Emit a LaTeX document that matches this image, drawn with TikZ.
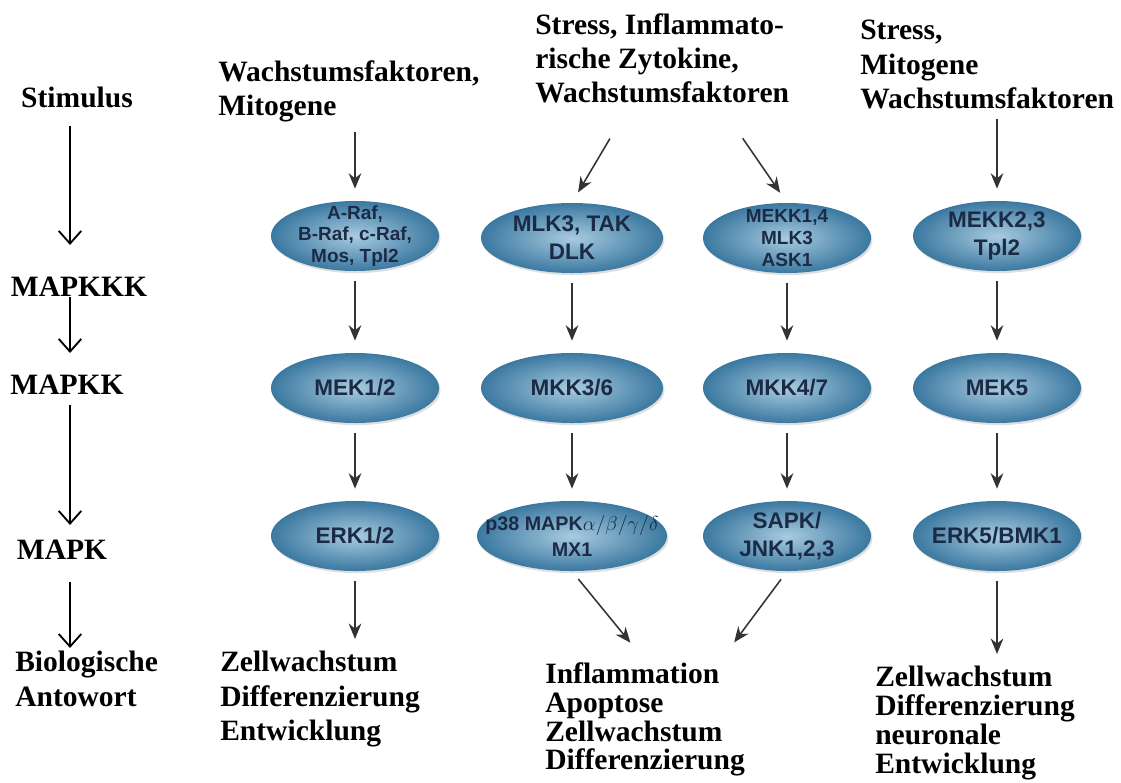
\documentclass[tikz,border=0pt]{standalone}
\usepackage{fontspec}
\setmainfont{Liberation Serif}
\setsansfont{Liberation Sans}
\usetikzlibrary{arrows.meta,shapes.geometric,shadows}
\definecolor{kinhell}{HTML}{A8CBE0}
\definecolor{kindunkel}{HTML}{3B78A0}
\definecolor{kinschrift}{HTML}{1C2B45}
\tikzset{
>=Stealth,
stufe/.style={font=\fontsize{21}{24.5}\selectfont\bfseries,inner sep=0pt,align=left},
eng/.style={font=\fontsize{21}{20.6}\selectfont\bfseries},
kinase/.style={ellipse,shading=radial,inner color=kinhell,outer color=kindunkel,
  text=kinschrift,font=\sffamily\bfseries\fontsize{16}{20}\selectfont,align=center,
  inner xsep=-40pt,inner ysep=-20pt,minimum width=4.2cm,minimum height=1.75cm,
  drop shadow={shadow xshift=1pt,shadow yshift=-1.5pt,opacity=0.25}},
klein/.style={font=\sffamily\bfseries\fontsize{13.5}{15.5}\selectfont},
pfeil/.style={-{Stealth[length=11pt,width=9pt]},line width=1.1pt,draw=black!80,
  shorten <=0.25cm,shorten >=0.3cm},
lpfeil/.style={-{Straight Barb[length=9pt,width=16pt]},line width=1.3pt}}

\begin{document}
\begin{tikzpicture}[x=0.025cm,y=-0.025cm]
\useasboundingbox (0,0) rectangle (1121,783);
\fill[white] (0,0) rectangle (1121,783);

% linke Spalte
\node[stufe] (stim) at (77,97) {Stimulus};
\node[stufe] (mkkk) at (79,287) {MAPKKK};
\node[stufe] (mkk) at (67,385) {MAPKK};
\node[stufe] (mk) at (62,550) {MAPK};
\node[stufe,anchor=north west] (bio) at (15,651) {Biologische\\Antowort};
\coordinate (lx) at (70,0);

\draw[lpfeil,shorten <=0.45cm,shorten >=0.8cm] (stim.south -| lx) -- (mkkk.north -| lx);
\draw[lpfeil,shorten >=0.55cm] (mkkk.south -| lx) -- (mkk.north -| lx);
\draw[lpfeil,shorten <=0.25cm,shorten >=0.375cm] (mkk.south -| lx) -- (mk.north -| lx);
\draw[lpfeil,shorten <=0.55cm,shorten >=0.075cm] (mk.south -| lx) -- (bio.north -| lx);

% Stimuli
\node[stufe,anchor=north west] (wachs) at (218,60) {Wachstumsfaktoren,\\Mitogene};
\node[stufe,anchor=north west] (stress) at (535,13) {Stress, Inflammato-\\rische Zytokine,\\Wachstumsfaktoren};
\node[stufe,anchor=north west] (stressz) at (860,20) {Stress,\\Mitogene\\Wachstumsfaktoren};

% MAPKKK
\node[kinase,klein] (raf) at (355,236) {A-Raf,\\B-Raf, c-Raf,\\Mos, Tpl2};
\node[kinase,minimum width=4.55cm] (mlk) at (572,238) {MLK3, TAK\\DLK};
\node[kinase,klein] (mekk) at (787,238) {MEKK1,4\\MLK3\\ASK1};
\node[kinase] (mekkz) at (997,236) {MEKK2,3\\Tpl2};

% MAPKK
\node[kinase] (mek) at (355,388) {MEK1/2};
\node[kinase,minimum width=4.55cm] (mkkd) at (572,388) {MKK3/6};
\node[kinase] (mkkv) at (787,388) {MKK4/7};
\node[kinase] (mekf) at (997,388) {MEK5};

% MAPK
\node[kinase] (erk) at (355,536) {ERK1/2};
\node[kinase,minimum width=4.75cm,font=\sffamily\bfseries\fontsize{14}{18}\selectfont] (p38) at (572,536) {p38 MAPK$\alpha/\beta/\gamma/\delta$\\MX1};
\node[kinase] (sapk) at (787,536) {SAPK/\\JNK1,2,3};
\node[kinase] (erkf) at (997,536) {ERK5/BMK1};

% Antwort
\node[stufe,anchor=north west] (zell) at (220,651) {Zellwachstum\\Differenzierung\\Entwicklung};
\node[stufe,eng,anchor=north west] (infl) at (545,662) {Inflammation\\Apoptose\\Zellwachstum\\Differenzierung};
\node[stufe,eng,anchor=north west] (zellz) at (875,666) {Zellwachstum\\Differenzierung\\neuronale\\Entwicklung};

\coordinate (s1) at (615,130);
\coordinate (s2) at (737,130);
\coordinate (z2) at (638,652);
\coordinate (z3) at (727,652);

\draw[pfeil] (wachs.south -| raf) -- (raf);
\draw[pfeil] (s1) -- (mlk.north);
\draw[pfeil] (s2) -- (mekk.north);
\draw[pfeil] (stressz.south -| mekkz) -- (mekkz);

\draw[pfeil] (raf) -- (mek);
\draw[pfeil] (mlk) -- (mkkd);
\draw[pfeil] (mekk) -- (mkkv);
\draw[pfeil] (mekkz) -- (mekf);

\draw[pfeil] (mek) -- (erk);
\draw[pfeil] (mkkd) -- (p38);
\draw[pfeil] (mkkv) -- (sapk);
\draw[pfeil] (mekf) -- (erkf);

\draw[pfeil] (erk) -- (erk |- zell.north);
\draw[pfeil] (p38.south) -- (z2);
\draw[pfeil] (sapk.south) -- (z3);
\draw[pfeil] (erkf) -- (erkf |- zellz.north);

\end{tikzpicture}
\end{document}
